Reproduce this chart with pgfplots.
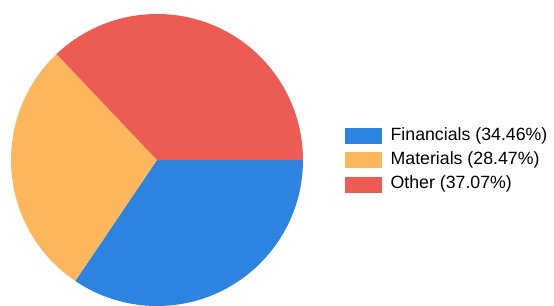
\documentclass[border=0pt]{standalone}
\usepackage{pgfplots}
\pgfplotsset{compat=1.18}
\usepackage{fontspec}
\setmainfont{Liberation Sans}
\definecolor{cfin}{RGB}{44,132,224}
\definecolor{cmat}{RGB}{252,182,92}
\definecolor{coth}{RGB}{236,92,84}
\begin{document}
\begin{tikzpicture}
\useasboundingbox (0,0) rectangle (554bp,306bp);
\begin{axis}[at={(157bp,146bp)}, anchor=center, width=292bp, height=292bp,
  scale only axis, hide axis, xmin=-1, xmax=1, ymin=-1, ymax=1, clip=false,
  legend style={at={(1.144,0.50)}, anchor=west, draw=none, fill=none, inner sep=0pt,
    font=\fontsize{17.8}{20}\selectfont, row sep=8bp, column sep=9bp,
    nodes={inner sep=0pt, text height=12.8bp, text depth=3.5bp}},
  legend cell align=left,
  legend image code/.code={\fill[#1] (0bp,-7.5bp) rectangle (36bp,7.5bp);}]
\def\fin{34.46}\def\mat{28.47}\def\oth{37.07}
\pgfmathsetmacro\a{-3.6*\fin}
\pgfmathsetmacro\b{\a-3.6*\mat}
\fill[cfin] (axis cs:0,0) -- ++(0:146bp) arc[start angle=0, end angle=\a, radius=146bp] -- cycle;
\fill[cmat] (axis cs:0,0) -- ++(\a:146bp) arc[start angle=\a, end angle=\b, radius=146bp] -- cycle;
\fill[coth] (axis cs:0,0) -- ++(\b:146bp) arc[start angle=\b, end angle=-360, radius=146bp] -- cycle;
\addlegendimage{cfin}
\addlegendentry{Financials (34.46\%)}
\addlegendimage{cmat}
\addlegendentry{Materials (28.47\%)}
\addlegendimage{coth}
\addlegendentry{Other (37.07\%)}
\end{axis}
\end{tikzpicture}
\end{document}
